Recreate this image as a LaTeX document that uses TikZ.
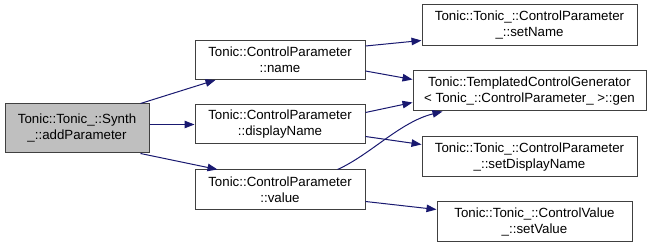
\documentclass[tikz,border=0pt]{standalone}
\usepackage{fontspec}
\setmainfont{Liberation Sans}
\usepackage{xcolor}
\usetikzlibrary{positioning,arrows.meta}
\definecolor{calledge}{HTML}{191970}
\definecolor{fnborder}{HTML}{404040}
\definecolor{fnfocus}{HTML}{BFBFBF}
\tikzset{
  fn/.style={draw=fnborder, line width=1pt, fill=white, inner sep=0pt,
             align=center, font=\fontsize{13.3}{16}\selectfont},
  focus/.style={fn, fill=fnfocus},
  call/.style={draw=calledge, line width=1pt,
               -{Triangle[length=10pt,width=7.5pt]}, color=calledge},
}

\begin{document}
\begin{tikzpicture}[x=1pt, y=-1pt]
  \useasboundingbox (0,0) rectangle (651,248);

  % Caller
  \node[focus, minimum width=144pt, minimum height=49pt] (synth) at (77,128.5)
    {Tonic::Tonic\_::Synth\\\_::addParameter};

  % Called directly
  \node[fn, minimum width=170pt, minimum height=39pt] (name)  at (280,60)
    {Tonic::ControlParameter\\::name};
  \node[fn, minimum width=170pt, minimum height=39pt] (disp)  at (280,124.5)
    {Tonic::ControlParameter\\::displayName};
  \node[fn, minimum width=170pt, minimum height=40pt] (value) at (280,190)
    {Tonic::ControlParameter\\::value};

  % Second level
  \node[fn, minimum width=215pt, minimum height=41pt] (setname)  at (529.5,25.5)
    {Tonic::Tonic\_::ControlParameter\\\_::setName};
  \node[fn, minimum width=233pt, minimum height=40pt] (gen)      at (529.5,91)
    {Tonic::TemplatedControlGenerator\\< Tonic\_::ControlParameter\_ >::gen};
  \node[fn, minimum width=215pt, minimum height=40pt] (setdisp)  at (529.5,157)
    {Tonic::Tonic\_::ControlParameter\\\_::setDisplayName};
  \node[fn, minimum width=195pt, minimum height=40pt] (setvalue) at (534.5,222)
    {Tonic::Tonic\_::ControlValue\\\_::setValue};

  % Calls (shifts are in page units, so negative yshift goes down)
  \draw[call] ([xshift=-9pt]synth.north east) -- ([xshift=21pt]name.south west);
  \draw[call] (synth.east |- disp.west) -- (disp.west);
  \draw[call] ([xshift=-9pt]synth.south east) -- ([xshift=23pt]value.north west);

  \draw[call] ([yshift=-6pt]name.north east) -- ([yshift=6pt]setname.south west);
  \draw[call] ([yshift=9pt]name.south east) -- ([yshift=-9pt]gen.north west);
  \draw[call] ([yshift=-8pt]disp.north east) -- ([yshift=9pt]gen.south west);
  \draw[call] ([yshift=8pt]disp.south east) -- ([yshift=-8pt]setdisp.north west);
  \draw[call] ([xshift=-28pt]value.north east)
    .. controls (370,155) and (400,122) .. ([xshift=30pt]gen.south west);
  \draw[call] ([yshift=9pt]value.south east) -- ([yshift=-8pt]setvalue.north west);

\end{tikzpicture}
\end{document}
